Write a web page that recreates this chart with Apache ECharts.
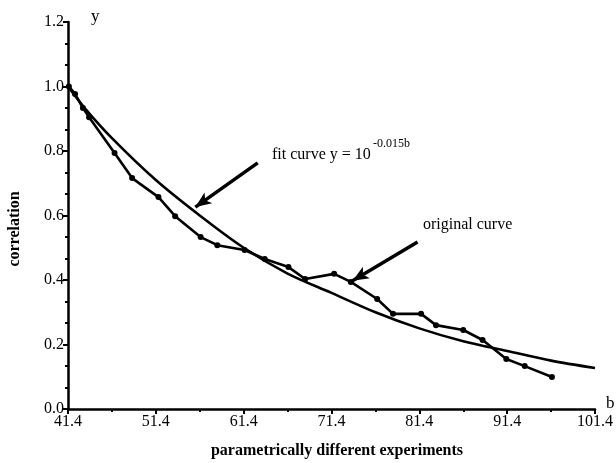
<!DOCTYPE html>
<html>
<head>
<meta charset="utf-8">
<script src="https://cdn.jsdelivr.net/npm/echarts@6/dist/echarts.min.js"></script>
<style>
  html, body { margin: 0; padding: 0; background: #fff; }
  #chart { width: 616px; height: 463px; }
</style>
</head>
<body>
<div id="chart"></div>
<script>
// original curve
const origB = [41.5, 42.2, 43.1, 43.8, 46.7, 48.7, 51.7, 53.6, 56.5, 58.4, 61.5, 63.8, 66.5, 68.4, 71.7, 73.6, 76.6, 78.4, 81.6, 83.3, 86.4, 88.6, 91.3, 93.4, 96.5];
const origY = [1.0, 0.977, 0.933, 0.905, 0.794, 0.716, 0.657, 0.598, 0.533, 0.508, 0.493, 0.465, 0.44, 0.403, 0.419, 0.394, 0.341, 0.295, 0.295, 0.26, 0.245, 0.214, 0.155, 0.133, 0.099];

// fit curve
const fitB = [41.4, 43.4, 46.4, 51.4, 56.4, 61.4, 66.4, 71.4, 76.4, 81.4, 86.4, 91.4, 96.4, 101.4];
const fitY = [1.0, 0.93, 0.84, 0.71, 0.60, 0.50, 0.42, 0.36, 0.30, 0.25, 0.21, 0.18, 0.15, 0.127];

// tick labels
const xTicks = [41.4, 51.4, 61.4, 71.4, 81.4, 91.4, 101.4];
const xMinorTicks = [46.4, 56.4, 66.4, 76.4, 86.4, 96.4];

// arrows [tail, tip] in data units
const fitArrow = [[63.0, 0.763], [55.9, 0.626]];
const origArrow = [[81.2, 0.518], [73.8, 0.398]];

const serif = '"Liberation Serif", "DejaVu Serif", serif';

const chart = echarts.init(document.getElementById('chart'));

function arrowLine(pts) {
  return {
    silent: true,
    symbol: ['none', 'arrow'],
    symbolSize: [10, 16],
    label: { show: false },
    lineStyle: { color: '#000', width: 3.5, type: 'solid' },
    data: [[{ coord: pts[0] }, { coord: pts[1] }]]
  };
}

const option = {
  backgroundColor: '#fff',
  animation: false,
  grid: { left: 68, right: 20, top: 22, bottom: 54 },
  xAxis: [
    {
      type: 'value',
      min: 41.4,
      max: 101.4,
      axisLine: { lineStyle: { color: '#000', width: 2.5 } },
      axisTick: { customValues: xTicks, length: 5, lineStyle: { color: '#000', width: 2 } },
      axisLabel: {
        customValues: xTicks,
        formatter: v => v.toFixed(1),
        color: '#000', fontFamily: serif, fontSize: 16, margin: 5
      },
      splitLine: { show: false }
    },
    {
      type: 'value',
      position: 'bottom',
      min: 41.4,
      max: 101.4,
      axisLine: { show: false },
      axisTick: { customValues: xMinorTicks, length: 3, lineStyle: { color: '#000', width: 2 } },
      axisLabel: { show: false },
      splitLine: { show: false }
    }
  ],
  yAxis: {
    type: 'value',
    min: 0,
    max: 1.2,
    interval: 0.2,
    axisLine: { show: true, lineStyle: { color: '#000', width: 2.5 } },
    axisTick: { show: true, length: 5, lineStyle: { color: '#000', width: 2 } },
    minorTick: { show: true, splitNumber: 3, length: 3, lineStyle: { color: '#000', width: 2 } },
    axisLabel: {
      formatter: v => v.toFixed(1),
      color: '#000', fontFamily: serif, fontSize: 16, margin: 4
    },
    splitLine: { show: false }
  },
  series: [
    {
      name: 'fit curve',
      type: 'line',
      data: fitB.map((b, i) => [b, fitY[i]]),
      smooth: 0.3,
      showSymbol: false,
      lineStyle: { color: '#000', width: 2.6 },
      markLine: arrowLine(fitArrow)
    },
    {
      name: 'original curve',
      type: 'line',
      data: origB.map((b, i) => [b, origY[i]]),
      symbol: 'circle',
      symbolSize: 6,
      itemStyle: { color: '#000' },
      lineStyle: { color: '#000', width: 2.6 },
      markLine: arrowLine(origArrow)
    }
  ],
  graphic: [
    { type: 'text', left: 91, top: 8, style: { text: 'y', font: '17px ' + serif, fill: '#000' } },
    { type: 'text', left: 606, top: 395, style: { text: 'b', font: '17px ' + serif, fill: '#000' } },
    {
      type: 'text', x: 15, y: 229, rotation: Math.PI / 2,
      style: { text: 'correlation', font: 'bold 16px ' + serif, fill: '#000', align: 'center', verticalAlign: 'middle' }
    },
    {
      type: 'text', x: 337, y: 451,
      style: { text: 'parametrically different experiments', font: 'bold 16px ' + serif, fill: '#000', align: 'center', verticalAlign: 'middle' }
    },
    { type: 'text', x: 272, y: 155, style: { text: 'fit curve y = 10', font: '16px ' + serif, fill: '#000', verticalAlign: 'middle' } },
    { type: 'text', x: 373, y: 144, style: { text: '-0.015b', font: '12px ' + serif, fill: '#000', verticalAlign: 'middle' } },
    { type: 'text', x: 423, y: 225, style: { text: 'original curve', font: '16px ' + serif, fill: '#000', verticalAlign: 'middle' } }
  ]
};

chart.setOption(option);
</script>
</body>
</html>
